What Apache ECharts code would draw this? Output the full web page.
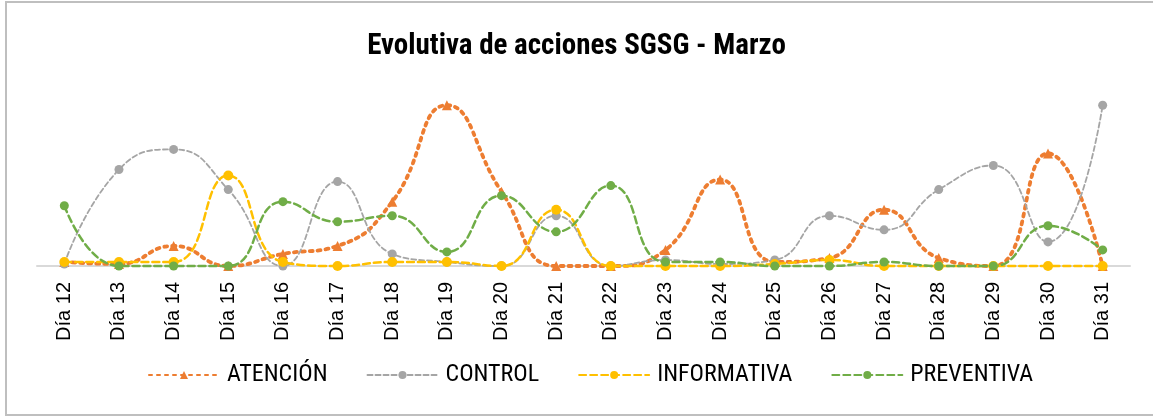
<!DOCTYPE html>
<html>
<head>
<meta charset="utf-8">
<script src="https://cdn.jsdelivr.net/npm/echarts@6/dist/echarts.min.js"></script>
<style>
  html, body { margin: 0; padding: 0; background: #fff; }
  #main { width: 1153px; height: 417px; }
</style>
</head>
<body>
<div id="main"></div>
<script>
// dias del mes
var days = ['Día 12', 'Día 13', 'Día 14', 'Día 15', 'Día 16', 'Día 17', 'Día 18', 'Día 19', 'Día 20', 'Día 21',
            'Día 22', 'Día 23', 'Día 24', 'Día 25', 'Día 26', 'Día 27', 'Día 28', 'Día 29', 'Día 30', 'Día 31'];

var atencion    = [1, 0.5, 5, 0, 3, 5, 16, 40, 18.5, 0, 0, 4, 21.5, 1, 2, 14, 2, 0, 28, 0];
var control     = [0.5, 24, 29, 19, 0, 21, 3, 1, 0, 12.5, 0, 1.5, 0.5, 1.5, 12.5, 9, 19, 25, 6, 40];
var informativa = [1, 1, 1, 22.5, 1, 0, 1, 1, 0, 14, 0, 0, 0, 0.5, 1.5, 0, 0, 0, 0, 0];
var preventiva  = [15, 0, 0, 0, 16, 11, 12.5, 3.5, 17.5, 8.5, 20, 1, 1, 0, 0, 1, 0, 0, 10, 4];

var condensed = '"Liberation Sans Narrow", "Roboto Condensed", Roboto, sans-serif';

var myChart = echarts.init(document.getElementById('main'));

function mkSeries(name, data, color, lineType, width, symbol, size) {
  return {
    name: name,
    type: 'line',
    data: data,
    smooth: 0.5,
    clip: false,
    symbol: symbol,
    symbolSize: size,
    showAllSymbol: true,
    itemStyle: { color: color },
    lineStyle: { color: color, width: width, type: lineType, cap: 'round' }
  };
}

var option = {
  backgroundColor: '#fff',
  animation: false,
  graphic: [{
    type: 'rect',
    shape: { x: 6, y: 2, width: 1200, height: 413 },
    style: { fill: 'none', stroke: '#bfbfbf', lineWidth: 2 },
    silent: true
  }],
  title: {
    text: 'Evolutiva de acciones SGSG - Marzo',
    left: 'center',
    top: 27,
    textStyle: { fontFamily: condensed, fontWeight: 'bold', fontSize: 29, color: '#000' }
  },
  legend: {
    bottom: 25,
    left: 143,
    itemWidth: 70,
    itemHeight: 10,
    itemGap: 39,
    textStyle: { fontFamily: condensed, fontSize: 24, color: '#000', padding: [0, 0, 0, 3] },
    data: ['ATENCIÓN', 'CONTROL', 'INFORMATIVA', 'PREVENTIVA']
  },
  grid: { left: 37, right: 23, top: 65, bottom: 151 },
  xAxis: {
    type: 'category',
    data: days,
    boundaryGap: true,
    axisLine: { lineStyle: { color: '#d9d9d9', width: 2 } },
    axisTick: { show: false },
    axisLabel: {
      rotate: 90,
      margin: 16,
      fontFamily: '"Liberation Sans", Arial, sans-serif',
      fontSize: 20,
      color: '#000',
      interval: 0
    }
  },
  yAxis: {
    type: 'value',
    min: 0,
    max: 50,
    show: false,
    splitLine: { show: false }
  },
  series: [
    mkSeries('ATENCIÓN', atencion, '#ED7D31', [3, 5], 3.8, 'triangle', 10),
    mkSeries('CONTROL', control, '#A5A5A5', [5, 3], 1.8, 'circle', 9),
    mkSeries('INFORMATIVA', informativa, '#FFC000', [7, 4], 2.5, 'circle', 10),
    mkSeries('PREVENTIVA', preventiva, '#70AD47', [7, 4], 2.5, 'circle', 9)
  ]
};

myChart.setOption(option);
</script>
</body>
</html>
